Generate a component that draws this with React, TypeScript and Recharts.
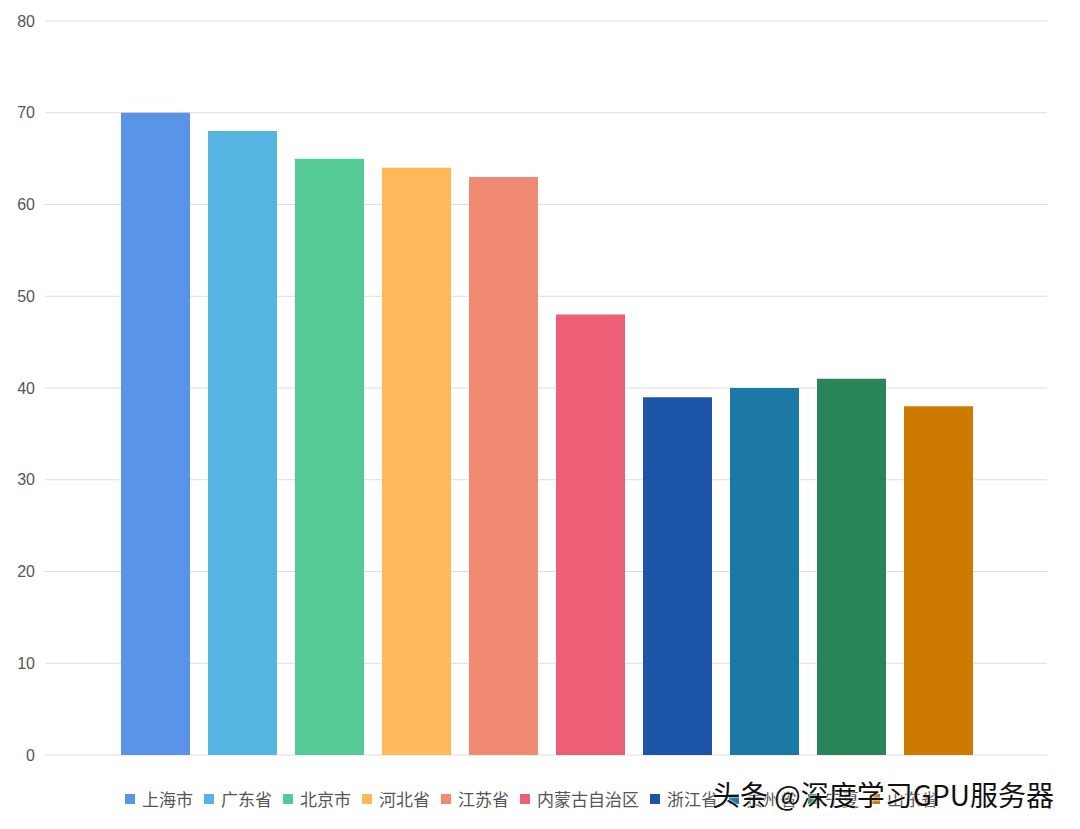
import React from 'react';
import { BarChart, Bar, XAxis, YAxis, CartesianGrid, Cell } from 'recharts';

const provinces = ['上海市', '广东省', '北京市', '河北省', '江苏省', '内蒙古自治区', '浙江省', '贵州省', '宁夏', '山东省'];
const values = [70, 68, 65, 64, 63, 48, 39, 40, 41, 38];
const colors = ['#5b93e6', '#56b4e3', '#54cb94', '#ffb95a', '#f08a72', '#ec5f74', '#1c54a8', '#1c78a5', '#2a845a', '#cc7a00'];
const yTicks = [0, 10, 20, 30, 40, 50, 60, 70, 80];

const data = provinces.map((name, i) => ({ name, value: values[i] }));

// legend sits under the plot, drawn as plain html
const ChartLegend = () => (
  <div style={{ position: 'absolute', left: 125, top: 786, display: 'flex', fontSize: 17, color: '#555', whiteSpace: 'nowrap' }}>
    {provinces.map((p, i) => (
      <span key={p} style={{ display: 'inline-flex', alignItems: 'center', marginRight: 11 }}>
        <span style={{ width: 10, height: 10, background: colors[i], marginRight: 7, display: 'inline-block' }} />
        {p}
      </span>
    ))}
  </div>
);

export default function App() {
  return (
    <div style={{ position: 'absolute', left: 0, top: 0, width: 1080, height: 829, background: '#fff', fontFamily: '"Noto Sans CJK SC", "Liberation Sans", sans-serif' }}>
      <BarChart width={1080} height={829} data={data} margin={{ top: 21, right: 33, bottom: 74, left: 0 }}>
        <CartesianGrid vertical={false} stroke="#dddddd" />
        <XAxis dataKey="name" tick={false} axisLine={false} tickLine={false} height={0} padding={{ left: 67, right: 65 }} />
        <YAxis
          domain={[0, 80]}
          ticks={yTicks}
          width={45}
          axisLine={false}
          tickLine={false}
          tickSize={0}
          tickMargin={10}
          tick={{ fill: '#555', fontSize: 16, fontFamily: '"Liberation Sans", Arial, sans-serif' }}
        />
        <Bar dataKey="value" barSize={69} isAnimationActive={false}>
          {data.map((d, i) => (
            <Cell key={d.name} fill={colors[i]} />
          ))}
        </Bar>
      </BarChart>
      <ChartLegend />
      <div
        style={{
          position: 'absolute',
          left: 712,
          top: 774,
          fontSize: 28,
          color: '#111',
          fontFamily: '"Noto Sans CJK SC", sans-serif',
          textShadow: '0 0 2px #fff, 0 0 2px #fff',
          whiteSpace: 'nowrap',
        }}
      >
        头条 @深度学习GPU服务器
      </div>
    </div>
  );
}
